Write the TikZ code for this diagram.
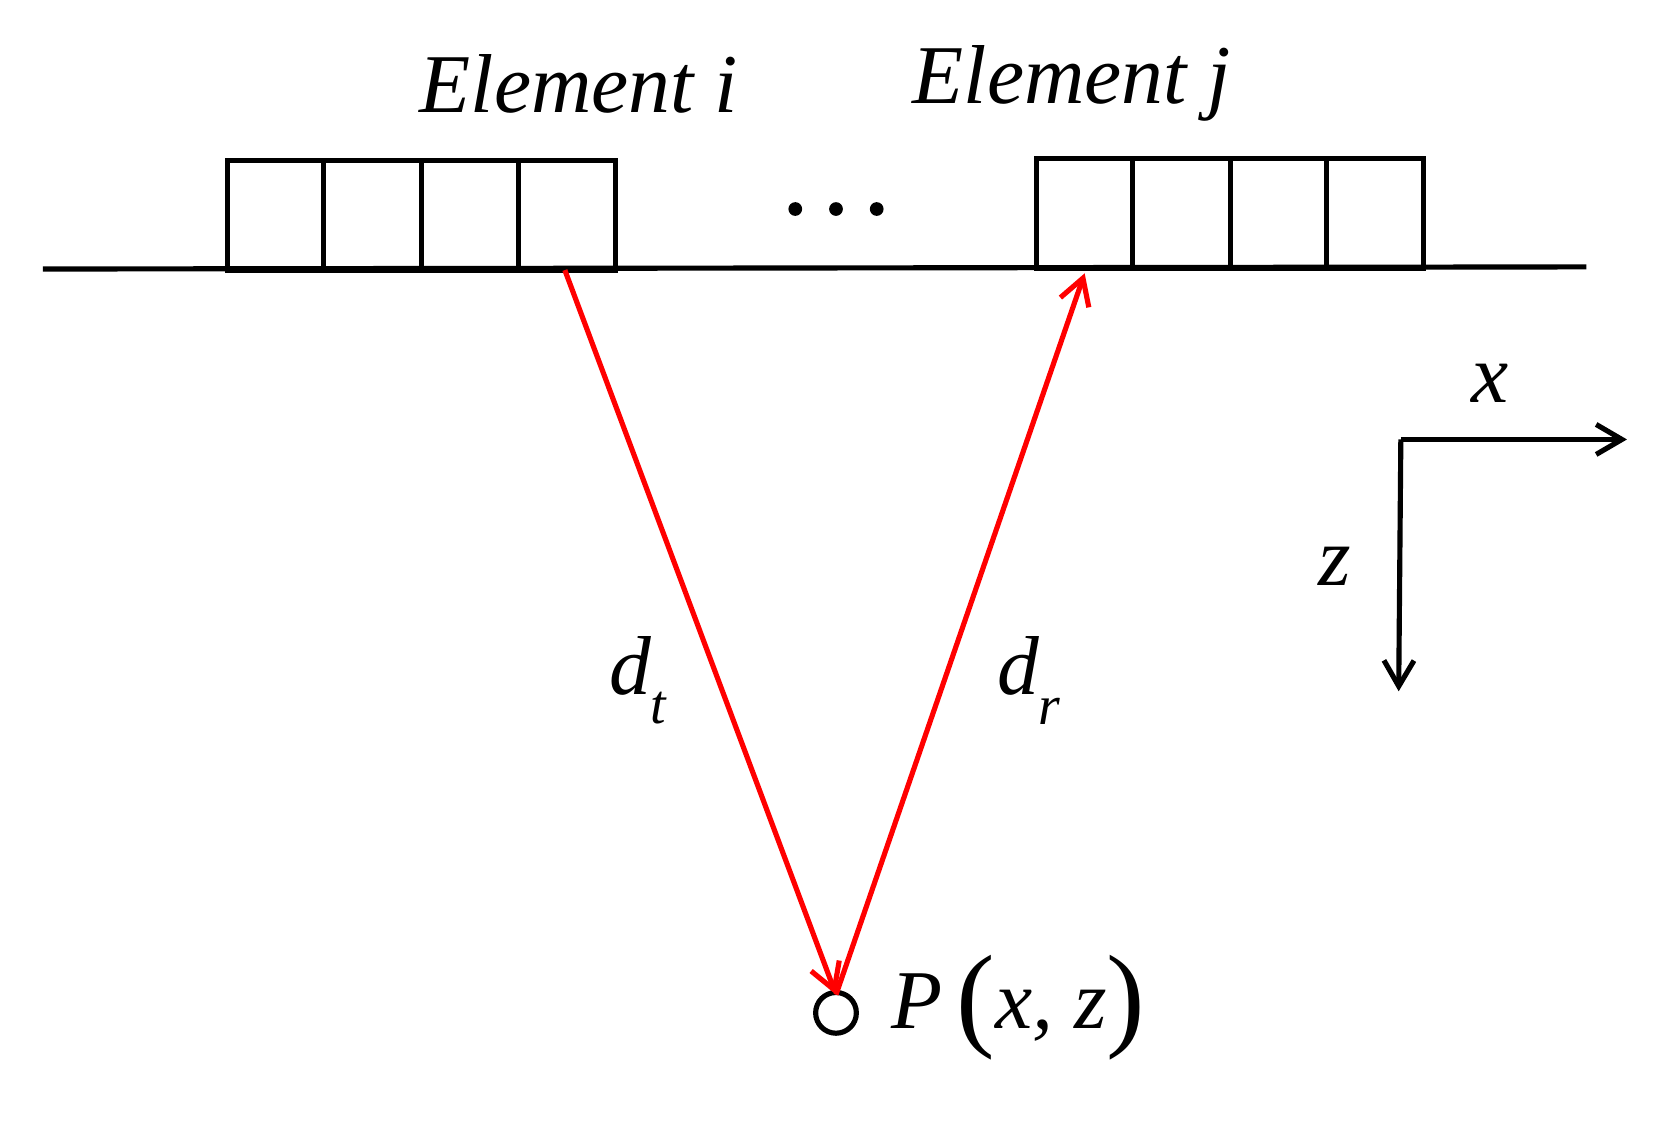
\documentclass[tikz,border=0pt]{standalone}
\usepackage{fontspec}
\setmainfont{Liberation Serif}
\usetikzlibrary{arrows.meta}
\begin{document}
\begin{tikzpicture}[x=0.5pt,y=-0.5pt,
  blk/.style={line width=2.4pt},
  ray/.style={red,line width=2.4pt,-{Straight Barb[length=12pt,width=14pt,line width=2.4pt]}},
  ax/.style={line width=2.4pt,-{Straight Barb[length=12pt,width=14pt,line width=2.4pt]}},
  lab/.style={font=\fontsize{39}{43}\selectfont\itshape}]
\useasboundingbox (0,0) rectangle (1560,1046);
\draw[blk] (40,251) -- (1480,249);
\draw[blk] (212,150) rectangle (574,252);
\foreach \x in {302,393,484} \draw[blk] (\x,150) -- (\x,252);
\draw[blk] (967,148) rectangle (1328,250);
\foreach \x in {1057,1148,1238} \draw[blk] (\x,148) -- (\x,250);
\foreach \x in {742,780,818} \fill (\x,195) circle (3.2pt);
\node[lab] (ei) at (540,78) {Element i};
\node[lab] (ej) at (1000,78) {Element j};
\coordinate (ti) at (527,252);
\coordinate (rj) at (1012,255);
\node[circle,draw,line width=2.4pt,minimum size=19pt,inner sep=0pt] (p) at (780,945) {};
\coordinate (pt) at (780,928);
\draw[ray] (ti) -- (pt);
\draw[ray] (pt) -- (rj);
\node[lab,anchor=west] (pl) at (825,940) {P\,\raisebox{-0.08em}{\upshape\fontsize{54}{54}\selectfont(}x, z\raisebox{-0.08em}{\upshape\fontsize{54}{54}\selectfont)}};
\node[lab] (dt) at (595,635) {d\raisebox{-0.35em}{\fontsize{26}{28}\selectfont t}};
\node[lab] (dr) at (960,635) {d\raisebox{-0.35em}{\fontsize{26}{28}\selectfont r}};
\coordinate (o) at (1307,410);
\coordinate (xe) at (1518,410);
\coordinate (ze) at (1305,645);
\draw[ax] (o) -- (xe);
\draw[ax] (o) -- (ze);
\node[lab] (xl) at (1390,358) {x};
\node[lab] (zl) at (1245,528) {z};
\end{tikzpicture}
\end{document}
